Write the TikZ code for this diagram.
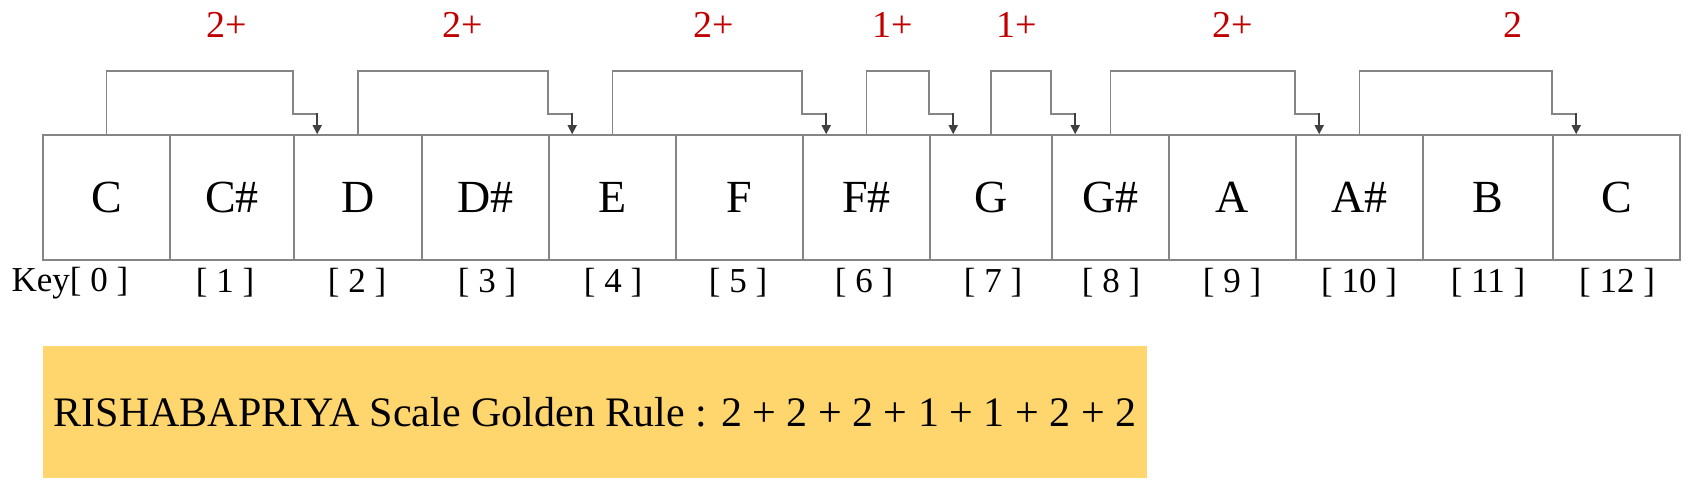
\documentclass[tikz,border=0pt]{standalone}
\usepackage{fontspec}
\setmainfont{Liberation Serif}
\usetikzlibrary{arrows.meta}
\definecolor{edge}{HTML}{858585}
\definecolor{arr}{HTML}{404040}
\definecolor{lab}{HTML}{C00000}
\definecolor{gold}{HTML}{FFD56E}
\begin{document}
\begin{tikzpicture}[x=1pt,y=-1pt,
  keybox/.style={draw=edge,line width=1.6pt,inner sep=0pt},
  conn/.style={draw=edge,line width=1.6pt},
  tipline/.style={draw=arr,line width=1.6pt,-{Triangle[length=9pt,width=9pt]}},
  note/.style={text=lab,font=\fontsize{38}{38}\selectfont},
  idx/.style={font=\fontsize{35}{35}\selectfont}]
\useasboundingbox (0,0) rectangle (1688,492);
\foreach \i/\a/\b/\t in {0/43/170/C,1/170/294/C\#,2/294/422/D,3/422/549/D\#,4/549/676/E,5/676/803/F,6/803/930/F\#,7/930/1052/G,8/1052/1169/G\#,9/1169/1296/A,10/1296/1423/A\#,11/1423/1553/B,12/1553/1680/C}{
  \node[keybox,minimum width={\b-\a},minimum height=125pt,font=\fontsize{46}{46}\selectfont] (k\i) at ({(\a+\b)/2},197.5) {\t};
}
\foreach \i/\x in {0/70,1/225,2/357,3/487,4/613,5/738,6/864,7/993,8/1111,9/1232,10/1359,11/1488,12/1617}{
  \node[idx] (n\i) at (\x,283) {\ifnum\i=0 Key\fi[ \i\ ]};
}
\foreach \s/\t/\lx/\txt in {0/2/227/2+,2/4/463/2+,4/6/714/2+,6/7/893/1+,7/8/1017/1+,8/10/1233/2+,10/12/1513/2}{
  \coordinate (a\s) at (k\s.north);
  \coordinate (b\s) at (k\t.north west);
  \draw[conn] (a\s) -- (a\s |- 0,71) -- (b\s |- 0,71) -- (b\s |- 0,114) -- ([xshift=24pt]b\s |- 0,114);
  \draw[tipline] ([xshift=24pt]b\s |- 0,113.2) -- ([xshift=24pt]b\s);
  \node[note] (l\s) at (\lx,25) {\txt};
}
\node[fill=gold,minimum width=1104pt,minimum height=132pt,font=\fontsize{42}{42}\selectfont] (rule) at (595,412) {RISHABAPRIYA Scale Golden Rule : 2 + 2 + 2 + 1 + 1 + 2 + 2};
\end{tikzpicture}
\end{document}
